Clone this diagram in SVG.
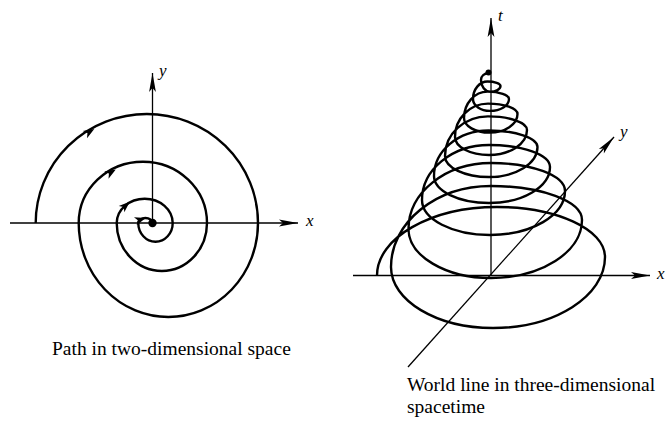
<svg xmlns="http://www.w3.org/2000/svg" xmlns:xlink="http://www.w3.org/1999/xlink" width="669" height="425" viewBox="0 0 669 425">
  <style>
    .axis { fill: none; stroke: #000; stroke-width: 1.3; }
    .curve { fill: none; stroke: #000; stroke-width: 2.4; stroke-linejoin: round; }
    .lbl { font-family: "Liberation Serif", "Times New Roman", serif; font-style: italic; font-size: 17px; fill: #000; }
    .cap { font-family: "Liberation Serif", "Times New Roman", serif; font-size: 19.5px; fill: #000; }
  </style>
  <defs>
    <marker id="ax" markerUnits="userSpaceOnUse" markerWidth="20" markerHeight="8" refX="19" refY="4" orient="auto" overflow="visible">
      <path d="M0,0.6 L19,4 L0,7.4 L4,4 Z" fill="#000"/>
    </marker>
    <path id="sa" d="M5,0 L-6,-4.2 L-3,0 L-6,4.2 Z" fill="#000"/>
  </defs>

  <g id="left-panel">
    <g id="left-axes">
      <line class="axis" x1="10" y1="223" x2="298" y2="223" marker-end="url(#ax)"/>
      <line class="axis" x1="152.5" y1="223" x2="152.5" y2="73" marker-end="url(#ax)"/>
    </g>
    <g id="left-spiral">
      <path class="curve" d="M35.7,223 A111.15 109 0 0 1 258,223 A89.65 94 0 0 1 78.7,223 A64.15 61.3 0 0 1 207,223 A45.15 48 0 0 1 116.7,223 A28 24.3 0 0 1 172.7,223 A17.2 18.7 0 0 1 138.3,223 A7.1 5 0 0 1 152.5,223"/>
      <circle cx="152.5" cy="223" r="4.2"/>
      <use xlink:href="#sa" href="#sa" transform="translate(90,131.5) rotate(-31)"/>
      <use xlink:href="#sa" href="#sa" transform="translate(111.5,172) rotate(-31)"/>
      <use xlink:href="#sa" href="#sa" transform="translate(126,205) rotate(-42)"/>
      <use xlink:href="#sa" href="#sa" transform="translate(141,219.5) rotate(-18)"/>
    </g>
    <g id="left-labels">
      <text class="lbl" x="159" y="76">y</text>
      <text class="lbl" x="306" y="226">x</text>
      <text class="cap" x="52" y="355">Path in two-dimensional space</text>
    </g>
  </g>

  <g id="right-panel">
    <g id="right-axes">
      <line class="axis" x1="353" y1="275.5" x2="650" y2="275.5" marker-end="url(#ax)"/>
      <line class="axis" x1="491" y1="275.5" x2="491" y2="18" marker-end="url(#ax)"/>
      <line class="axis" x1="408" y1="367" x2="614" y2="137" marker-end="url(#ax)"/>
    </g>
    <g id="world-line">
      <path class="curve" d="M377,275.5 C377,237.9 430.8,207 497,207 C556.6,207 605,229.4 605,257 C605,296.2 554.8,328 493,328 C436.7,328 391,300.7 391,267 C391,222.3 435.8,186 491,186 C541.2,186 582,201.2 582,220 C582,252 541.2,278 491,278 C445.5,278 408.5,256 408.5,229 C408.5,192.6 445.5,163 491,163 C531.8,163 565,175.5 565,191 C565,215.3 531.4,235 490,235 C452.5,235 422,219.3 422,200 C422,169.6 452,145 489,145 C522.7,145 550,154.9 550,167 C550,186.9 522.7,203 489,203 C458.6,203 434,190.9 434,176 C434,150.9 458.4,130.5 488.5,130.5 C515.5,130.5 537.5,137.9 537.5,147 C537.5,163.6 515.8,177 489,177 C464.7,177 445,167.6 445,156 C445,134.1 464.3,116.4 488,116.4 C509.5,116.4 527,122.5 527,130 C527,143.8 510,155 489,155 C470.2,155 455,146.9 455,137 C455,118.6 469.8,103.6 488,103.6 C504.3,103.6 517.5,108.3 517.5,114 C517.5,124.3 505,132.6 489.5,132.6 C475.4,132.6 464,126.1 464,118 C464,103.4 474.6,91.6 487.6,91.6 C499.4,91.6 509,94.9 509,99 C509,105.6 500.5,110.9 490,110.9 C480.6,110.9 473,105.6 473,99 C473,89.3 479.5,81.5 487.5,81.5 C494.7,81.5 500.5,83.5 500.5,86 C500.5,89.2 495.9,91.8 490.2,91.8 C485.1,91.8 481,86.5 481,80 C481,76 484.5,73.5 488.5,73"/>
      <circle cx="488.5" cy="72.5" r="3"/>
    </g>
    <g id="right-labels">
      <text class="lbl" x="498" y="21">t</text>
      <text class="lbl" x="620" y="137">y</text>
      <text class="lbl" x="657" y="279">x</text>
      <text class="cap" x="407" y="391">World line in three-dimensional</text>
      <text class="cap" x="407" y="413">spacetime</text>
    </g>
  </g>
</svg>
